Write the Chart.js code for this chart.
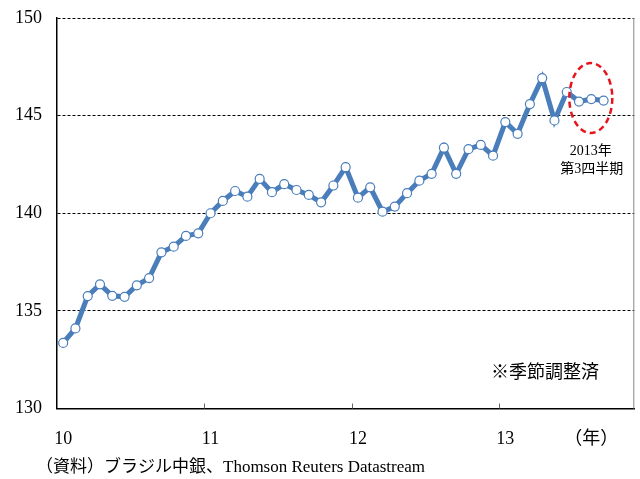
<!DOCTYPE html>
<html>
<head>
<meta charset="utf-8">
<script src="https://cdn.jsdelivr.net/npm/chart.js@4/dist/chart.umd.min.js"></script>
<style>
  html, body { margin: 0; padding: 0; background: #fff; }
</style>
</head>
<body>
<canvas id="brChart" width="640" height="479"></canvas>
<script>
// monthly index, Jan 2010 - Sep 2013 (seasonally adjusted)
const months = [];
for (let y = 10; y <= 13; y++) {
  for (let m = 1; m <= 12; m++) {
    if (y === 13 && m > 11) break;
    months.push(y + "/" + m);
  }
}
const values = [
  133.36, 134.10, 135.76, 136.36, 135.77, 135.72, 136.31, 136.68, 138.00, 138.29, 138.84, 138.97,
  140.00, 140.63, 141.14, 140.85, 141.76, 141.08, 141.49, 141.19, 140.94, 140.56, 141.42, 142.36,
  140.80, 141.33, 140.08, 140.34, 141.03, 141.67, 142.02, 143.36, 142.02, 143.28, 143.50, 142.95,
  144.67, 144.07, 145.59, 146.92, 144.75, 146.21, 145.72, 145.85, 145.77
];
const yearLabels = { 0: "10", 12: "11", 24: "12", 36: "13", 43: "（年）" };
const yearStarts = [12, 24, 36];

const serif = '"Liberation Serif", "Times New Roman", "Noto Sans CJK JP", serif';
const blue = "#4a7ebb";

// inward year ticks, right frame, ellipse and notes
const extras = {
  id: "extras",
  afterDraw(chart) {
    const ctx = chart.ctx;
    const xs = chart.scales.x, ys = chart.scales.y;
    const a = chart.chartArea;
    ctx.save();
    ctx.strokeStyle = "#888";
    ctx.lineWidth = 1;
    ctx.beginPath();
    ctx.moveTo(a.right - 0.5, a.top);
    ctx.lineTo(a.right - 0.5, a.bottom);
    ctx.stroke();
    ctx.strokeStyle = "#666";
    yearStarts.forEach(function (i) {
      const x = Math.round((xs.getPixelForValue(i - 1) + xs.getPixelForValue(i)) / 2) + 0.5;
      ctx.beginPath();
      ctx.moveTo(x, a.bottom);
      ctx.lineTo(x, a.bottom - 5);
      ctx.stroke();
    });

    // red dashed ellipse round the latest quarter
    const cx = xs.getPixelForValue(43) - 0.5;
    const cy = ys.getPixelForValue(145.9);
    ctx.strokeStyle = "#e8141c";
    ctx.lineWidth = 2.5;
    ctx.setLineDash([6, 4]);
    ctx.beginPath();
    ctx.ellipse(cx, cy, 21.5, 35, 0, 0, Math.PI * 2);
    ctx.stroke();
    ctx.setLineDash([]);

    ctx.fillStyle = "#000";
    ctx.textBaseline = "middle";
    ctx.textAlign = "center";
    ctx.font = "14px " + serif;
    ctx.fillText("2013年", cx, 151);
    ctx.fillText("第3四半期", cx + 1, 169);

    ctx.textAlign = "left";
    ctx.font = "18px " + serif;
    ctx.fillText("※季節調整済", 491, 373);

    ctx.font = "17px " + serif;
    ctx.fillText("（資料）ブラジル中銀、Thomson Reuters Datastream", 36, 468);
    ctx.restore();
  }
};

const config = {
  type: "line",
  data: {
    labels: months,
    datasets: [
      {
        data: values,
        borderColor: blue,
        borderWidth: 5,
        pointRadius: 4.5,
        pointBackgroundColor: "#fff",
        pointBorderColor: blue,
        pointBorderWidth: 1.2,
        tension: 0,
      },
    ],
  },
  options: {
    responsive: false,
    animation: false,
    layout: { padding: { top: 18, right: 1, left: 0, bottom: 0 } },
    plugins: {
      legend: { display: false },
      tooltip: { enabled: false },
    },
    scales: {
      x: {
        offset: true,
        grid: { display: true, drawOnChartArea: false, tickLength: 16, tickColor: "rgba(0,0,0,0)" },
        border: { color: "#000", width: 1.5 },
        ticks: {
          autoSkip: false,
          maxRotation: 0,
          padding: 4,
          color: "#000",
          font: { family: serif, size: 18 },
          callback: function (v, i) {
            return yearLabels[i] !== undefined ? yearLabels[i] : "";
          },
        },
        afterFit: function (scale) {
          scale.height = 70.5;
        },
      },
      y: {
        min: 130,
        max: 150,
        grid: { color: "#000", lineWidth: 1, tickLength: 12, tickColor: "rgba(0,0,0,0)" },
        border: { color: "#000", width: 1.5, dash: [3, 2] },
        ticks: {
          stepSize: 5,
          padding: 3,
          color: "#000",
          font: { family: serif, size: 18 },
        },
        afterFit: function (scale) {
          scale.width = 57;
        },
      },
    },
  },
  plugins: [extras],
};

new Chart(document.getElementById("brChart").getContext("2d"), config);
</script>
</body>
</html>
